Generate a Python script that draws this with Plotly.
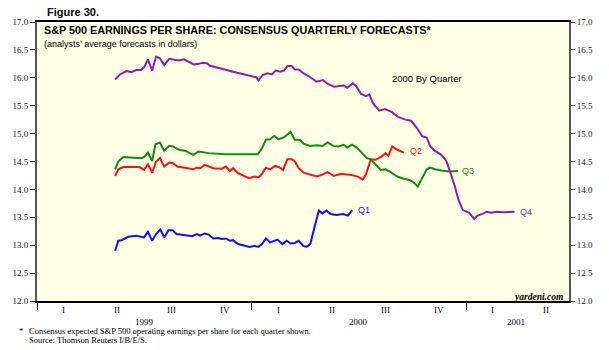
import plotly.graph_objects as go

# ---- data (decimal-year time, EPS in dollars) ----
q1_t = [1999.364, 1999.379, 1999.394, 1999.425, 1999.463, 1999.486, 1999.499, 1999.517, 1999.537, 1999.555,
        1999.575, 1999.593, 1999.613, 1999.632, 1999.650, 1999.693, 1999.723, 1999.746, 1999.761, 1999.781,
        1999.800, 1999.822, 1999.845, 1999.861, 1999.881, 1999.899, 1999.914, 1999.937, 1999.968, 1999.991,
        2000.014, 2000.032, 2000.049, 2000.067, 2000.087, 2000.106, 2000.121, 2000.144, 2000.164, 2000.182,
        2000.202, 2000.220, 2000.240, 2000.256, 2000.274, 2000.292, 2000.314, 2000.330, 2000.349, 2000.369,
        2000.396, 2000.427, 2000.450, 2000.469]
q1_v = [12.90, 13.08, 13.09, 13.15, 13.17, 13.15, 13.14, 13.24, 13.08, 13.20,
        13.28, 13.14, 13.27, 13.27, 13.20, 13.18, 13.16, 13.20, 13.17, 13.21,
        13.19, 13.12, 13.13, 13.11, 13.12, 13.08, 13.09, 13.02, 12.99, 12.97,
        12.99, 12.97, 13.02, 13.12, 13.05, 13.08, 13.10, 13.02, 13.08, 13.03,
        13.04, 13.08, 12.99, 12.97, 13.02, 13.30, 13.62, 13.57, 13.62, 13.56,
        13.54, 13.56, 13.53, 13.63]

q2_t = [1999.364, 1999.379, 1999.402, 1999.448, 1999.478, 1999.499, 1999.517, 1999.537, 1999.555, 1999.573,
        1999.593, 1999.616, 1999.634, 1999.655, 1999.693, 1999.728, 1999.746, 1999.761, 1999.781, 1999.800,
        1999.822, 1999.861, 1999.881, 1999.899, 1999.914, 1999.937, 1999.968, 1999.988, 2000.014, 2000.034,
        2000.049, 2000.067, 2000.087, 2000.110, 2000.128, 2000.147, 2000.167, 2000.187, 2000.202, 2000.220,
        2000.243, 2000.274, 2000.304, 2000.327, 2000.355, 2000.383, 2000.417, 2000.465, 2000.495, 2000.518,
        2000.533, 2000.556, 2000.579, 2000.607, 2000.625, 2000.638, 2000.656, 2000.679, 2000.710]
q2_v = [14.24, 14.36, 14.40, 14.40, 14.40, 14.35, 14.45, 14.30, 14.50, 14.56,
        14.41, 14.48, 14.47, 14.41, 14.38, 14.36, 14.39, 14.38, 14.44, 14.41,
        14.38, 14.37, 14.41, 14.33, 14.38, 14.29, 14.23, 14.20, 14.23, 14.22,
        14.28, 14.39, 14.36, 14.42, 14.40, 14.35, 14.54, 14.54, 14.50, 14.38,
        14.30, 14.27, 14.23, 14.26, 14.31, 14.24, 14.28, 14.26, 14.23, 14.18,
        14.26, 14.54, 14.53, 14.59, 14.65, 14.60, 14.77, 14.71, 14.66]

q3_t = [1999.364, 1999.379, 1999.402, 1999.448, 1999.486, 1999.499, 1999.517, 1999.537, 1999.552, 1999.573,
        1999.593, 1999.616, 1999.634, 1999.662, 1999.693, 1999.728, 1999.754, 1999.800, 1999.876, 1999.953,
        2000.029, 2000.049, 2000.067, 2000.087, 2000.106, 2000.125, 2000.144, 2000.164, 2000.182, 2000.202,
        2000.225, 2000.243, 2000.274, 2000.304, 2000.332, 2000.355, 2000.381, 2000.404, 2000.430, 2000.446,
        2000.469, 2000.491, 2000.515, 2000.538, 2000.556, 2000.579, 2000.602, 2000.625, 2000.645, 2000.679,
        2000.710, 2000.737, 2000.758, 2000.775, 2000.794, 2000.817, 2000.832, 2000.855, 2000.885, 2000.923,
        2000.962]
q3_v = [14.36, 14.50, 14.58, 14.57, 14.56, 14.58, 14.66, 14.51, 14.81, 14.84,
        14.69, 14.78, 14.77, 14.71, 14.69, 14.62, 14.68, 14.65, 14.63, 14.63,
        14.63, 14.74, 14.89, 14.90, 14.96, 14.90, 14.92, 14.97, 15.03, 14.89,
        14.89, 14.82, 14.78, 14.79, 14.78, 14.84, 14.78, 14.77, 14.80, 14.75,
        14.80, 14.75, 14.65, 14.56, 14.54, 14.44, 14.35, 14.36, 14.32, 14.23,
        14.19, 14.17, 14.12, 14.05, 14.20, 14.36, 14.39, 14.36, 14.34, 14.32,
        14.33]

q4_t = [1999.364, 1999.387, 1999.417, 1999.440, 1999.463, 1999.486, 1999.501, 1999.517, 1999.537, 1999.555,
        1999.573, 1999.593, 1999.616, 1999.639, 1999.662, 1999.685, 1999.708, 1999.731, 1999.754, 1999.772,
        1999.792, 1999.804, 1999.914, 2000.022, 2000.032, 2000.052, 2000.075, 2000.095, 2000.113, 2000.133,
        2000.151, 2000.167, 2000.187, 2000.202, 2000.220, 2000.243, 2000.274, 2000.304, 2000.333, 2000.360,
        2000.385, 2000.413, 2000.430, 2000.446, 2000.472, 2000.488, 2000.511, 2000.533, 2000.549, 2000.567,
        2000.595, 2000.622, 2000.653, 2000.683, 2000.717, 2000.744, 2000.771, 2000.796, 2000.817, 2000.832,
        2000.855, 2000.885, 2000.908, 2000.928, 2000.946, 2000.965, 2000.985, 2001.015, 2001.038, 2001.054,
        2001.077, 2001.096, 2001.119, 2001.145, 2001.176, 2001.226]
q4_v = [15.97, 16.06, 16.12, 16.10, 16.14, 16.14, 16.20, 16.33, 16.13, 16.38,
        16.35, 16.23, 16.34, 16.32, 16.31, 16.33, 16.29, 16.24, 16.25, 16.27,
        16.26, 16.22, 16.11, 16.01, 15.95, 16.05, 16.08, 16.06, 16.13, 16.11,
        16.13, 16.21, 16.21, 16.15, 16.15, 16.08, 16.01, 15.93, 15.96, 15.88,
        15.84, 15.86, 15.86, 15.82, 15.90, 15.85, 15.71, 15.67, 15.70, 15.54,
        15.41, 15.44, 15.39, 15.30, 15.25, 15.23, 15.10, 14.95, 14.93, 14.78,
        14.69, 14.62, 14.51, 14.29, 14.08, 13.81, 13.63, 13.58, 13.47, 13.53,
        13.56, 13.60, 13.58, 13.60, 13.59, 13.60]

series_names = ["Q1", "Q2", "Q3", "Q4"]
series_colors = ["#1010FF", "#FF1010", "#138A13", "#9A1AA8"]
label_pos = [(2000.485, 13.63), (2000.729, 14.68), (2000.974, 14.33), (2001.242, 13.60)]

years = [1999, 2000, 2001]
quarter_labels = ["I", "II", "III", "IV"]
year_label_x = [1999.5, 2000.5, 2001.234]

y_ticks = [12.0, 12.5, 13.0, 13.5, 14.0, 14.5, 15.0, 15.5, 16.0, 16.5, 17.0]
x_range = [1999.0, 2001.48]
y_range = [12.0, 17.0]

serif = "Liberation Serif"
sans = "Liberation Sans"

fig = go.Figure()
all_t = [q1_t, q2_t, q3_t, q4_t]
all_v = [q1_v, q2_v, q3_v, q4_v]
for name, t, v, c in zip(series_names, all_t, all_v, series_colors):
    fig.add_trace(go.Scatter(x=t, y=v, mode="lines", name=name,
                             line=dict(color=c, width=2), showlegend=False))

ann = []
for name, (lx, ly), c in zip(series_names, label_pos, series_colors):
    ann.append(dict(x=lx, y=ly, xref="x", yref="y", text=name, showarrow=False,
                    xanchor="left", yanchor="middle", font=dict(family=sans, size=9, color=c)))

# quarter labels and year labels
for yr in [1999, 2000, 2001]:
    for qi, ql in enumerate(quarter_labels):
        qx = yr + (qi + 0.5) / 4
        if qx > x_range[1]:
            continue
        ann.append(dict(x=qx, y=-0.031, xref="x", yref="paper", text=ql, showarrow=False,
                        xanchor="center", yanchor="middle", font=dict(family=serif, size=9, color="black")))
for yr, yx in zip(years, year_label_x):
    ann.append(dict(x=yx, y=-0.077, xref="x", yref="paper", text=str(yr), showarrow=False,
                    xanchor="center", yanchor="middle", font=dict(family=serif, size=9, color="black")))

ann += [
    dict(x=0.015, y=1.036, xref="paper", yref="paper", text="<b>Figure 30.</b>", showarrow=False,
         xanchor="left", yanchor="middle", font=dict(family=sans, size=11, color="black")),
    dict(x=0.009, y=0.971, xref="paper", yref="paper",
         text="<b>S&P 500 EARNINGS PER SHARE: CONSENSUS QUARTERLY FORECASTS*</b>", showarrow=False,
         xanchor="left", yanchor="middle", font=dict(family=sans, size=10.8, color="black")),
    dict(x=0.009, y=0.921, xref="paper", yref="paper",
         text="(analysts’ average forecasts in dollars)", showarrow=False,
         xanchor="left", yanchor="middle", font=dict(family=sans, size=9, color="black")),
    dict(x=0.664, y=0.799, xref="paper", yref="paper", text="2000 By Quarter", showarrow=False,
         xanchor="left", yanchor="middle", font=dict(family=sans, size=9.5, color="black")),
    dict(x=0.992, y=0.016, xref="paper", yref="paper", text="<b><i>yardeni.com</i></b>", showarrow=False,
         xanchor="right", yanchor="middle", font=dict(family=serif, size=9.5, color="black")),
    dict(x=-0.037, y=-0.106, xref="paper", yref="paper", text="*", showarrow=False,
         xanchor="left", yanchor="middle", font=dict(family=serif, size=8.5, color="black")),
    dict(x=-0.019, y=-0.106, xref="paper", yref="paper",
         text="Consensus expected S&P 500 operating earnings per share for each quarter shown.",
         showarrow=False, xanchor="left", yanchor="middle", font=dict(family=serif, size=8.5, color="black")),
    dict(x=-0.019, y=-0.138, xref="paper", yref="paper", text="Source: Thomson Reuters I/B/E/S.",
         showarrow=False, xanchor="left", yanchor="middle", font=dict(family=serif, size=8.5, color="black")),
]

fig.update_layout(
    width=609, height=350,
    margin=dict(l=29, r=39.5, t=22, b=49),
    paper_bgcolor="white", plot_bgcolor="#FFFFE6",
    annotations=ann,
    xaxis=dict(range=x_range, tickvals=years, ticktext=["", "", ""], ticks="outside", ticklen=7,
               tickcolor="black", showgrid=False, zeroline=False, showline=True, linecolor="black",
               linewidth=1.5, mirror=True),
    yaxis=dict(range=y_range, tickvals=y_ticks, tickformat=".1f", ticks="outside", ticklen=5,
               tickcolor="#333", showgrid=False, zeroline=False, showline=True, linecolor="#555",
               linewidth=2, mirror=True, tickfont=dict(family=serif, size=9, color="#222")),
    yaxis2=dict(range=y_range, tickvals=y_ticks, tickformat=".1f", ticks="outside", ticklen=5,
                tickcolor="#333", showgrid=False, zeroline=False, overlaying="y", side="right",
                showline=False, tickfont=dict(family=serif, size=9, color="#222")),
)
# invisible trace to anchor right axis
fig.add_trace(go.Scatter(x=[x_range[0]], y=[y_range[0]], yaxis="y2", mode="markers",
                         marker=dict(opacity=0), showlegend=False, hoverinfo="skip"))

fig.write_html("out.html")
